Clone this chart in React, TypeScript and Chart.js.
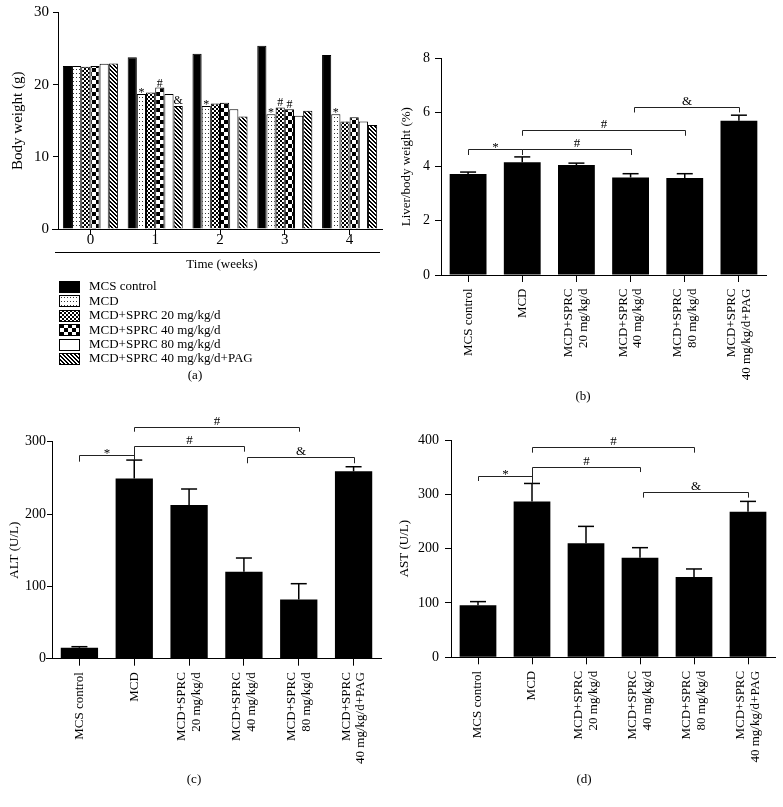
import React, { useEffect, useRef } from 'react';
import { Chart, registerables } from 'chart.js';

Chart.register(...registerables);

const FONT = '"Liberation Serif", "Times New Roman", Times, serif';

// ---------- Panel (a): body weight ----------
const weekLabels = ['0', '1', '2', '3', '4'];
const groupNames = [
  'MCS control',
  'MCD',
  'MCD+SPRC 20 mg/kg/d',
  'MCD+SPRC 40 mg/kg/d',
  'MCD+SPRC 80 mg/kg/d',
  'MCD+SPRC 40 mg/kg/d+PAG',
];
const bwMCS = [22.6, 23.8, 24.3, 25.4, 24.1];
const bwMCD = [22.6, 18.7, 17.05, 15.9, 15.9];
const bwSPRC20 = [22.5, 18.9, 17.4, 16.85, 14.9];
const bwSPRC40 = [22.6, 19.6, 17.5, 16.6, 15.5];
const bwSPRC80 = [22.9, 18.7, 16.6, 15.7, 14.9];
const bwPAG = [22.95, 17.05, 15.6, 16.4, 14.4];
const bwTicks = [0, 10, 20, 30];
// [series index, week index, mark]
const bwMarks: [number, number, string][] = [
  [1, 1, '*'], [3, 1, '#'], [5, 1, '&'],
  [1, 2, '*'],
  [1, 3, '*'], [2, 3, '#'], [3, 3, '#'],
  [1, 4, '*'],
];

// ---------- Panels (b)-(d) ----------
const groupLabels: string[][] = [
  ['MCS control'],
  ['MCD'],
  ['MCD+SPRC', '20 mg/kg/d'],
  ['MCD+SPRC', '40 mg/kg/d'],
  ['MCD+SPRC', '80 mg/kg/d'],
  ['MCD+SPRC', '40 mg/kg/d+PAG'],
];

const liverMean = [3.73, 4.16, 4.06, 3.6, 3.58, 5.69];
const liverSem = [0.07, 0.2, 0.07, 0.14, 0.16, 0.21];
const liverTicks = [0, 2, 4, 6, 8];

const altMean = [15.2, 249, 212.4, 120.3, 82, 259];
const altSem = [1.4, 25.6, 22.2, 18.9, 21.7, 6.4];
const altTicks = [0, 100, 200, 300];

const astMean = [95.7, 287, 209.8, 183.4, 147.9, 268];
const astSem = [6.8, 33, 31.2, 18.4, 14.7, 19];
const astTicks = [0, 100, 200, 300, 400];

type Bracket = { from: number; to: number; y: number; endFrom: number; endTo: number; mark: string };

const liverBrackets: Bracket[] = [
  { from: 0, to: 1, y: 4.64, endFrom: 4.43, endTo: 4.43, mark: '*' },
  { from: 1, to: 3, y: 4.64, endFrom: 4.43, endTo: 4.43, mark: '#' },
  { from: 1, to: 4, y: 5.36, endFrom: 5.14, endTo: 5.14, mark: '#' },
  { from: 3, to: 5, y: 6.22, endFrom: 6.0, endTo: 6.0, mark: '&' },
];
const altBrackets: Bracket[] = [
  { from: 1, to: 4, y: 320.7, endFrom: 313.8, endTo: 313.8, mark: '#' },
  { from: 1, to: 3, y: 294.5, endFrom: 274.6, endTo: 286.2, mark: '#' },
  { from: 0, to: 1, y: 281.6, endFrom: 272.4, endTo: 281.6, mark: '*' },
  { from: 3, to: 5, y: 279.3, endFrom: 270.2, endTo: 270.2, mark: '&' },
];
const astBrackets: Bracket[] = [
  { from: 1, to: 4, y: 386.5, endFrom: 376.7, endTo: 376.7, mark: '#' },
  { from: 1, to: 3, y: 350.9, endFrom: 320, endTo: 341, mark: '#' },
  { from: 0, to: 1, y: 334.4, endFrom: 324.5, endTo: 334.4, mark: '*' },
  { from: 3, to: 5, y: 304.9, endFrom: 293.9, endTo: 293.9, mark: '&' },
];

// style constants
const BRACKET_START_NUDGE: Record<string, number> = { '&': 3 };

type Area = { left: number; top: number; right: number; bottom: number };

function makePattern(w: number, h: number, draw: (g: CanvasRenderingContext2D) => void): CanvasPattern {
  const c = document.createElement('canvas');
  c.width = w;
  c.height = h;
  const g = c.getContext('2d')!;
  g.fillStyle = '#fff';
  g.fillRect(0, 0, w, h);
  g.fillStyle = '#000';
  draw(g);
  return g.createPattern(c, 'repeat')!;
}

function makeFills(): (string | CanvasPattern)[] {
  return [
    '#000',
    makePattern(3, 4, (g) => { g.fillStyle = '#333'; g.fillRect(1, 1, 1, 1); }),
    makePattern(4, 4, (g) => { g.fillRect(0, 0, 2, 2); g.fillRect(2, 2, 2, 2); }),
    makePattern(8, 8, (g) => { g.fillRect(0, 0, 4, 4); g.fillRect(4, 4, 4, 4); }),
    '#fff',
    makePattern(4, 4, (g) => {
      for (let i = 0; i < 4; i++) { g.fillRect(i, i, 1, 1); g.fillRect((i + 1) % 4, i, 1, 1); }
    }),
  ];
}

function line(ctx: CanvasRenderingContext2D, x1: number, y1: number, x2: number, y2: number) {
  ctx.beginPath();
  ctx.moveTo(x1, y1);
  ctx.lineTo(x2, y2);
  ctx.stroke();
}

function makeScales(W: number, H: number, area: Area, yTicks: number[], yFont: number, yTickLen: number, yTickPad: number, xTickLen: number) {
  return {
    x: {
      type: 'category',
      offset: true,
      grid: { drawOnChartArea: false, drawTicks: true, tickLength: xTickLen, color: '#000', lineWidth: 1, offset: false },
      border: { display: true, color: '#000', width: 1 },
      ticks: { autoSkip: false, maxRotation: 0, minRotation: 0, callback: () => '' },
      afterFit: (s: any) => { s.height = H - area.bottom; s.paddingLeft = 0; s.paddingRight = 0; },
    },
    y: {
      type: 'linear',
      min: yTicks[0],
      max: yTicks[yTicks.length - 1],
      ticks: { stepSize: yTicks[1] - yTicks[0], font: { family: FONT, size: yFont }, color: '#000', padding: yTickPad },
      grid: { drawOnChartArea: false, drawTicks: true, tickLength: yTickLen, color: '#000', lineWidth: 1 },
      border: { display: true, color: '#000', width: 1 },
      afterFit: (s: any) => { s.width = area.left; s.paddingTop = 0; s.paddingBottom = 0; },
    },
  };
}

function drawYTitle(ctx: CanvasRenderingContext2D, text: string, x: number, area: any, size: number) {
  ctx.save();
  ctx.font = `${size}px ${FONT}`;
  ctx.fillStyle = '#000';
  ctx.textAlign = 'center';
  ctx.textBaseline = 'middle';
  ctx.translate(x, (area.top + area.bottom) / 2);
  ctx.rotate(-Math.PI / 2);
  ctx.fillText(text, 0, 0);
  ctx.restore();
}

function buildBodyWeight(canvas: HTMLCanvasElement) {
  const W = 390, H = 400;
  const area: Area = { left: 58, top: 12.5, right: 382, bottom: 229 };
  const fills = makeFills();
  const series = [bwMCS, bwMCD, bwSPRC20, bwSPRC40, bwSPRC80, bwPAG];
  return new Chart(canvas, {
    type: 'bar',
    data: {
      labels: weekLabels,
      datasets: series.map((d, i) => ({
        label: groupNames[i],
        data: d,
        backgroundColor: fills[i] as any,
        borderColor: '#000',
        borderWidth: 1,
        categoryPercentage: 0.85,
        barPercentage: 1,
      })),
    },
    options: {
      responsive: false,
      animation: false,
      devicePixelRatio: 1,
      layout: { padding: { left: 0, top: area.top, right: W - area.right, bottom: 0 } },
      plugins: { legend: { display: false }, tooltip: { enabled: false }, title: { display: false } },
      scales: makeScales(W, H, area, bwTicks, 15, 5, 4, 6) as any,
    },
    plugins: [
      {
        id: 'decorA',
        afterDraw(chart: any) {
          const ctx: CanvasRenderingContext2D = chart.ctx;
          const ca = chart.chartArea;
          const xs = chart.scales.x;
          ctx.save();
          ctx.fillStyle = '#000';
          ctx.strokeStyle = '#000';
          ctx.lineWidth = 1;
          const by = Math.round(ca.bottom - 0.5) + 0.5;
          line(ctx, ca.left - 6, by, ca.left, by);
          // x labels
          ctx.font = `15px ${FONT}`;
          ctx.textAlign = 'center';
          ctx.textBaseline = 'alphabetic';
          weekLabels.forEach((l, i) => ctx.fillText(l, xs.getPixelForValue(i), ca.bottom + 14.5));
          // second axis rule and title
          line(ctx, ca.left - 3, 252.5, ca.right - 2, 252.5);
          ctx.font = `13px ${FONT}`;
          ctx.textBaseline = 'middle';
          ctx.fillText('Time (weeks)', (ca.left + ca.right) / 2 + 2, 265);
          // significance marks
          ctx.font = `12px ${FONT}`;
          ctx.textBaseline = 'alphabetic';
          bwMarks.forEach(([s, w, m]) => {
            const el = chart.getDatasetMeta(s).data[w];
            const dy = m === '*' ? 2 : m === '&' ? -2 : -1;
            ctx.fillText(m, el.x, el.y + dy);
          });
          // legend
          ctx.font = `13px ${FONT}`;
          ctx.textBaseline = 'middle';
          groupNames.forEach((name, i) => {
            const cy = 287 + i * 14.4;
            ctx.fillStyle = fills[i] as any;
            ctx.fillRect(59, Math.round(cy - 6), 21, 12);
            ctx.strokeStyle = '#000';
            ctx.strokeRect(59.5, Math.round(cy - 6) + 0.5, 20, 11);
            ctx.fillStyle = '#000';
            ctx.textAlign = 'left';
            ctx.fillText(name, 89, cy);
          });
          // panel letter
          ctx.textAlign = 'center';
          ctx.fillText('(a)', 195, 376);
          ctx.restore();
          drawYTitle(ctx, 'Body weight (g)', 18, ca, 15);
        },
      },
    ],
  } as any);
}

type GroupSpec = {
  W: number; H: number; area: Area;
  mean: number[]; sem: number[]; ticks: number[];
  brackets: Bracket[];
  yTitle: string; yTitleX: number;
  letter: string; letterX: number; letterY: number;
  yTickLen: number; yTickPad: number;
};

function buildGroup(canvas: HTMLCanvasElement, spec: GroupSpec) {
  const { W, H, area } = spec;
  return new Chart(canvas, {
    type: 'bar',
    data: {
      labels: groupLabels.map((l) => l.join(' ')),
      datasets: [
        {
          data: spec.mean,
          backgroundColor: '#000',
          borderColor: '#000',
          borderWidth: 0,
          categoryPercentage: 0.68,
          barPercentage: 1,
        },
      ],
    },
    options: {
      responsive: false,
      animation: false,
      devicePixelRatio: 1,
      layout: { padding: { left: 0, top: area.top, right: W - area.right, bottom: 0 } },
      plugins: { legend: { display: false }, tooltip: { enabled: false }, title: { display: false } },
      scales: makeScales(W, H, area, spec.ticks, 14, spec.yTickLen, spec.yTickPad, 7) as any,
    },
    plugins: [
      {
        id: 'decorGroup',
        afterDraw(chart: any) {
          const ctx: CanvasRenderingContext2D = chart.ctx;
          const ca = chart.chartArea;
          const xs = chart.scales.x;
          const ys = chart.scales.y;
          ctx.save();
          ctx.fillStyle = '#000';
          ctx.strokeStyle = '#000';
          ctx.lineWidth = 1;
          const by = Math.round(ca.bottom - 0.5) + 0.5;
          line(ctx, ca.left - 6, by, ca.left, by);
          // error bars
          const meta = chart.getDatasetMeta(0);
          ctx.lineWidth = 1.5;
          meta.data.forEach((bar: any, i: number) => {
            const yTop = ys.getPixelForValue(spec.mean[i] + spec.sem[i]);
            line(ctx, bar.x, bar.y, bar.x, yTop);
            line(ctx, bar.x - 8, yTop, bar.x + 8, yTop);
          });
          // brackets
          ctx.lineWidth = 1;
          ctx.strokeStyle = '#222';
          ctx.font = `13px ${FONT}`;
          ctx.textAlign = 'center';
          ctx.textBaseline = 'alphabetic';
          spec.brackets.forEach((b) => {
            const x1 = Math.round(xs.getPixelForValue(b.from) + (BRACKET_START_NUDGE[b.mark] || 0)) + 0.5;
            const x2 = Math.round(xs.getPixelForValue(b.to)) + 0.5;
            const y = Math.round(ys.getPixelForValue(b.y)) + 0.5;
            ctx.beginPath();
            ctx.moveTo(x1, ys.getPixelForValue(b.endFrom));
            ctx.lineTo(x1, y);
            ctx.lineTo(x2, y);
            ctx.lineTo(x2, ys.getPixelForValue(b.endTo));
            ctx.stroke();
            ctx.fillText(b.mark, (x1 + x2) / 2, y + (b.mark === '*' ? 1 : -2.5));
          });
          // rotated category labels
          ctx.font = `13px ${FONT}`;
          ctx.textAlign = 'right';
          ctx.textBaseline = 'middle';
          groupLabels.forEach((lines, i) => {
            const x = xs.getPixelForValue(i);
            lines.forEach((txt, k) => {
              const cx = x + (k - (lines.length - 1) / 2) * 14.7;
              ctx.save();
              ctx.translate(cx, ca.bottom + 13.5);
              ctx.rotate(-Math.PI / 2);
              ctx.fillText(txt, 0, 0);
              ctx.restore();
            });
          });
          // panel letter
          ctx.textAlign = 'center';
          ctx.fillText(spec.letter, spec.letterX, spec.letterY);
          ctx.restore();
          drawYTitle(ctx, spec.yTitle, spec.yTitleX, ca, 13);
        },
      },
    ],
  } as any);
}

const specB: GroupSpec = {
  W: 393, H: 405, area: { left: 51, top: 58.3, right: 376, bottom: 275 },
  mean: liverMean, sem: liverSem, ticks: liverTicks, brackets: liverBrackets,
  yTitle: 'Liver/body weight (%)', yTitleX: 17, letter: '(b)', letterX: 193, letterY: 397,
  yTickLen: 6, yTickPad: 5,
};
const specC: GroupSpec = {
  W: 390, H: 402, area: { left: 52, top: 36.7, right: 381, bottom: 253.7 },
  mean: altMean, sem: altSem, ticks: altTicks, brackets: altBrackets,
  yTitle: 'ALT (U/L)', yTitleX: 15, letter: '(c)', letterX: 194, letterY: 375,
  yTickLen: 5, yTickPad: 1,
};
const specD: GroupSpec = {
  W: 393, H: 402, area: { left: 61, top: 35, right: 385, bottom: 252.3 },
  mean: astMean, sem: astSem, ticks: astTicks, brackets: astBrackets,
  yTitle: 'AST (U/L)', yTitleX: 15, letter: '(d)', letterX: 194, letterY: 375,
  yTickLen: 6, yTickPad: 6,
};

export default function App() {
  const refA = useRef<HTMLCanvasElement>(null);
  const refB = useRef<HTMLCanvasElement>(null);
  const refC = useRef<HTMLCanvasElement>(null);
  const refD = useRef<HTMLCanvasElement>(null);

  useEffect(() => {
    const charts: Chart[] = [];
    if (refA.current) charts.push(buildBodyWeight(refA.current));
    if (refB.current) charts.push(buildGroup(refB.current, specB));
    if (refC.current) charts.push(buildGroup(refC.current, specC));
    if (refD.current) charts.push(buildGroup(refD.current, specD));
    return () => charts.forEach((c) => c.destroy());
  }, []);

  const cs = (left: number, top: number, w: number, h: number): React.CSSProperties => ({
    position: 'absolute', left, top, width: w, height: h, display: 'block',
  });

  return (
    <div style={{ position: 'absolute', left: 0, top: 0, width: 783, height: 807, background: '#fff', overflow: 'hidden' }}>
      <canvas ref={refA} width={390} height={400} style={cs(0, 0, 390, 400)} />
      <canvas ref={refB} width={393} height={405} style={cs(390, 0, 393, 405)} />
      <canvas ref={refC} width={390} height={402} style={cs(0, 405, 390, 402)} />
      <canvas ref={refD} width={393} height={402} style={cs(390, 405, 393, 402)} />
    </div>
  );
}
